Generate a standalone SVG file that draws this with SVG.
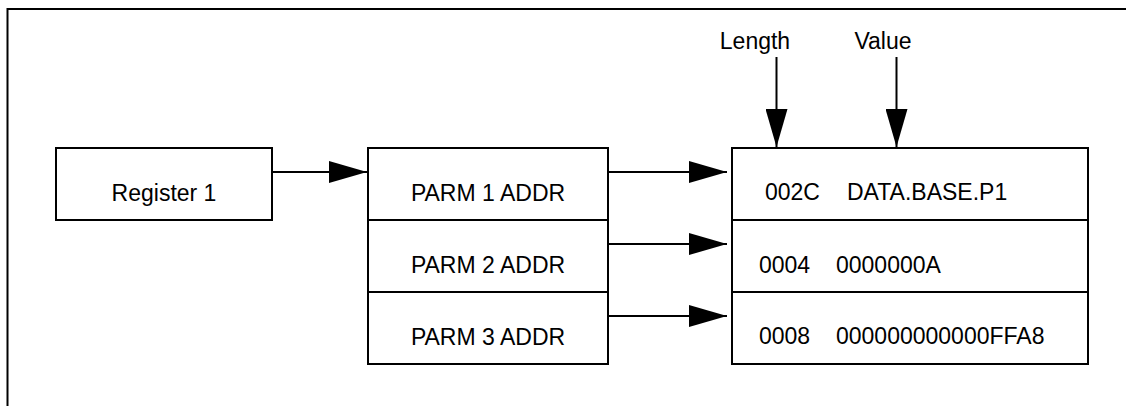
<svg xmlns="http://www.w3.org/2000/svg" width="1126" height="406" viewBox="0 0 1126 406">
<style>
.box{fill:#fff;stroke:#000;stroke-width:2}
.ln{fill:none;stroke:#000;stroke-width:2}
text{font-family:"Liberation Sans",Arial,sans-serif;font-size:23px;fill:#000}
.c{text-anchor:middle}
</style>
<defs>
<marker id="ah" markerUnits="userSpaceOnUse" markerWidth="38" markerHeight="22" refX="38" refY="11" orient="auto">
<path d="M0,0 L38,11 L0,22 z" fill="#000"/>
</marker>
</defs>
<rect width="1126" height="406" fill="#fff"/>
<path class="ln" d="M7.5,406 V9 H1126"/>
<g id="register1">
<rect class="box" x="56" y="148" width="216" height="72"/>
<text class="c" x="164" y="201">Register 1</text>
</g>
<g id="parm-list">
<rect class="box" x="368" y="148" width="240" height="216"/>
<line class="ln" x1="368" y1="220" x2="608" y2="220"/>
<line class="ln" x1="368" y1="292" x2="608" y2="292"/>
<text class="c" x="488" y="201">PARM 1 ADDR</text>
<text class="c" x="488" y="273">PARM 2 ADDR</text>
<text class="c" x="488" y="345">PARM 3 ADDR</text>
</g>
<g id="values">
<rect class="box" x="732" y="148" width="356" height="216"/>
<line class="ln" x1="732" y1="220" x2="1088" y2="220"/>
<line class="ln" x1="732" y1="292" x2="1088" y2="292"/>
<text x="765" y="200">002C</text>
<text x="847" y="200">DATA.BASE.P1</text>
<text x="759" y="273">0004</text>
<text x="836" y="273">0000000A</text>
<text x="759" y="344">0008</text>
<text x="836" y="344">000000000000FFA8</text>
</g>
<g id="label-length">
<text class="c" x="755" y="49">Length</text>
</g>
<g id="label-value">
<text class="c" x="883" y="49">Value</text>
</g>
<g id="connectors">
<line class="ln" x1="272" y1="172" x2="367" y2="172" marker-end="url(#ah)"/>
<line class="ln" x1="608" y1="172" x2="727" y2="172" marker-end="url(#ah)"/>
<line class="ln" x1="608" y1="244" x2="727" y2="244" marker-end="url(#ah)"/>
<line class="ln" x1="608" y1="316" x2="727" y2="316" marker-end="url(#ah)"/>
<line class="ln" x1="776.5" y1="57" x2="776.5" y2="147" marker-end="url(#ah)"/>
<line class="ln" x1="896.5" y1="57" x2="896.5" y2="147" marker-end="url(#ah)"/>
</g>
</svg>
